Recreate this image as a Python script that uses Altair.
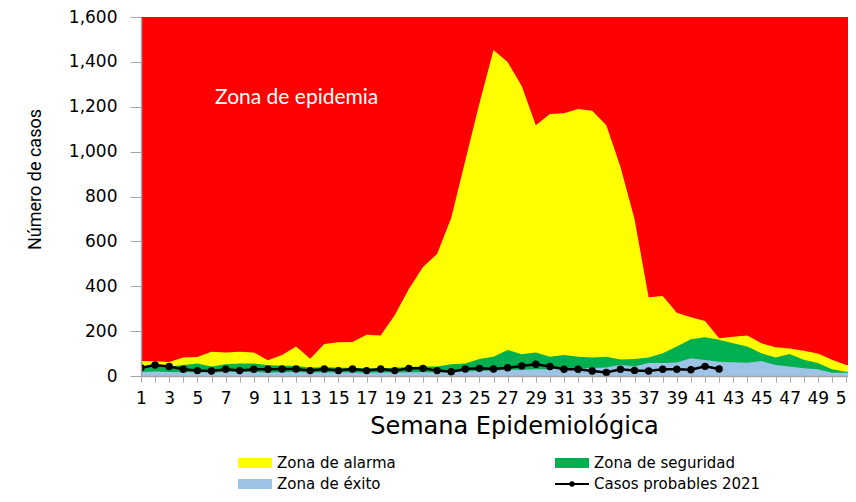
import altair as alt
import pandas as pd

# ---------------- data ----------------
semanas = list(range(1, 53))

epidemia = [1600, 1600, 1600, 1600, 1600, 1600, 1600, 1600, 1600, 1600,
            1600, 1600, 1600, 1600, 1600, 1600, 1600, 1600, 1600, 1600,
            1600, 1600, 1600, 1600, 1600, 1600, 1600, 1600, 1600, 1600,
            1600, 1600, 1600, 1600, 1600, 1600, 1600, 1600, 1600, 1600,
            1600, 1600, 1600, 1600, 1600, 1600, 1600, 1600, 1600, 1600,
            1600, 1600]

alarma = [67, 66, 62, 83, 85, 108, 105, 108, 105, 70,
          94, 131, 77, 143, 150, 151, 184, 181, 272, 388,
          486, 544, 704, 960, 1215, 1453, 1399, 1292, 1118, 1168,
          1171, 1190, 1182, 1118, 933, 700, 351, 356, 282, 262,
          245, 168, 175, 180, 146, 128, 123, 113, 100, 72,
          49, 47]

seguridad = [42, 45, 42, 49, 56, 42, 52, 56, 56, 49,
             46, 46, 37, 40, 37, 37, 34, 34, 37, 40,
             42, 42, 52, 56, 76, 86, 116, 97, 105, 86,
             94, 86, 82, 86, 74, 76, 82, 101, 131, 164,
             173, 162, 146, 131, 101, 82, 98, 72, 58, 30,
             19, 17]

exito = [18, 20, 18, 17, 17, 16, 18, 18, 18, 16,
         17, 18, 16, 16, 17, 16, 15, 16, 16, 17,
         17, 17, 18, 20, 22, 25, 28, 28, 30, 30,
         32, 32, 36, 38, 50, 42, 58, 58, 60, 79,
         71, 64, 61, 59, 67, 49, 42, 34, 30, 15,
         15, 15]

semanas_2021 = list(range(1, 43))
casos_2021 = [37, 49, 42, 30, 24, 22, 30, 24, 30, 30,
              31, 31, 24, 31, 24, 31, 24, 31, 24, 34,
              34, 24, 19, 31, 34, 31, 37, 45, 52, 42,
              30, 30, 22, 16, 30, 25, 22, 30, 30, 28,
              43, 31]

x_ticks = list(range(1, 53))
y_ticks = [0, 200, 400, 600, 800, 1000, 1200, 1400, 1600]

# ---------------- chart ----------------
df = pd.DataFrame({"semana": semanas, "epidemia": epidemia, "alarma": alarma,
                   "seguridad": seguridad, "exito": exito})
df_casos = pd.DataFrame({"semana": semanas_2021, "casos": casos_2021})

W, H = 707, 359
x_scale = alt.Scale(domain=[1, 51.14], nice=False, zero=False)
y_scale = alt.Scale(domain=[0, 1600], nice=False)

AXIS_GRAY = "#A6A6A6"
NUM_FONT = "DejaVu Sans"

x_axis = alt.Axis(values=x_ticks, labelExpr="datum.value % 2 == 1 ? datum.label : ''",
                  title="Semana Epidemiológica", grid=False, tickSize=6, tickColor=AXIS_GRAY,
                  domainColor=AXIS_GRAY, domainWidth=1.5, labelFont=NUM_FONT, labelFontSize=17,
                  labelColor="black", labelPadding=8, labelFlush=False, labelBound=False,
                  labelOverlap=False,
                  titleFont=NUM_FONT, titleFontSize=24, titleFontWeight="normal",
                  titleColor="black", titleX=373, titleY=50, titleBaseline="middle",
                  titleAlign="center", zindex=1)

y_axis = alt.Axis(values=y_ticks, format=",.0f", title="Número de casos", grid=False,
                  tickSize=11, tickColor=AXIS_GRAY, domainColor=AXIS_GRAY, domainWidth=1.5,
                  labelFont=NUM_FONT, labelFontSize=17, labelColor="black", labelPadding=13,
                  titleFont="Roboto", titleFontSize=18, titleFontWeight="normal",
                  titleColor="black", titleX=-106, titleY=162, titleAngle=270,
                  titleAlign="center", titleBaseline="middle", zindex=1)


def area(col, color):
    return alt.Chart(df).mark_area(color=color, clip=True, interpolate="linear").encode(
        x=alt.X("semana:Q", scale=x_scale, axis=x_axis),
        y=alt.Y(f"{col}:Q", scale=y_scale, axis=y_axis),
    )


red = area("epidemia", "#FF0000")
yellow = area("alarma", "#FFFF00")
green = area("seguridad", "#00B050")
blue = area("exito", "#9DC3E6")

line = alt.Chart(df_casos).mark_line(
    color="black", strokeWidth=2.5, clip=True,
    point=alt.OverlayMarkDef(filled=True, color="black", size=55),
).encode(
    x=alt.X("semana:Q", scale=x_scale, axis=x_axis),
    y=alt.Y("casos:Q", scale=y_scale, axis=y_axis),
)

zona_txt = alt.Chart(pd.DataFrame({"t": ["Zona de epidemia"]})).mark_text(
    align="left", baseline="middle", font="Lato", fontSize=21, color="white"
).encode(x=alt.value(74), y=alt.value(81), text="t:N")

# ---------------- legend ----------------
LEG_FONT = "DejaVu Sans"
LEG_SIZE = 15


def leg_text(label, x, y):
    return alt.Chart(pd.DataFrame({"t": [label]})).mark_text(
        align="left", baseline="middle", font=LEG_FONT, fontSize=LEG_SIZE, color="black"
    ).encode(x=alt.value(x), y=alt.value(y), text="t:N")


def leg_rect(color, x, y):
    return alt.Chart(pd.DataFrame({"t": [0]})).mark_rect(color=color).encode(
        x=alt.value(x), x2=alt.value(x + 34), y=alt.value(y - 5), y2=alt.value(y + 5)
    )


r1, r2 = 446, 467
c1, c2 = 97, 414
legend = [
    leg_rect("#FFFF00", c1, r1), leg_text("Zona de alarma", c1 + 39, r1),
    leg_rect("#00B050", c2, r1), leg_text("Zona de seguridad", c2 + 39, r1),
    leg_rect("#9DC3E6", c1, r2), leg_text("Zona de éxito", c1 + 39, r2),
    alt.Chart(pd.DataFrame({"t": [0]})).mark_rule(color="black", strokeWidth=2).encode(
        x=alt.value(c2), x2=alt.value(c2 + 34), y=alt.value(r2)),
    alt.Chart(pd.DataFrame({"t": [0]})).mark_point(filled=True, color="black", size=30, opacity=1).encode(
        x=alt.value(c2 + 17), y=alt.value(r2)),
    leg_text("Casos probables 2021", c2 + 39, r2),
]

chart = alt.layer(red, yellow, green, blue, line, zona_txt, *legend).properties(
    width=W, height=H,
    autosize=alt.AutoSizeParams(type="none"),
    padding={"left": 133, "top": 9, "right": 0, "bottom": 118},
    background="white",
).configure_view(strokeWidth=0)

chart.save("out.html", embed_options={"renderer": "svg", "actions": False})
